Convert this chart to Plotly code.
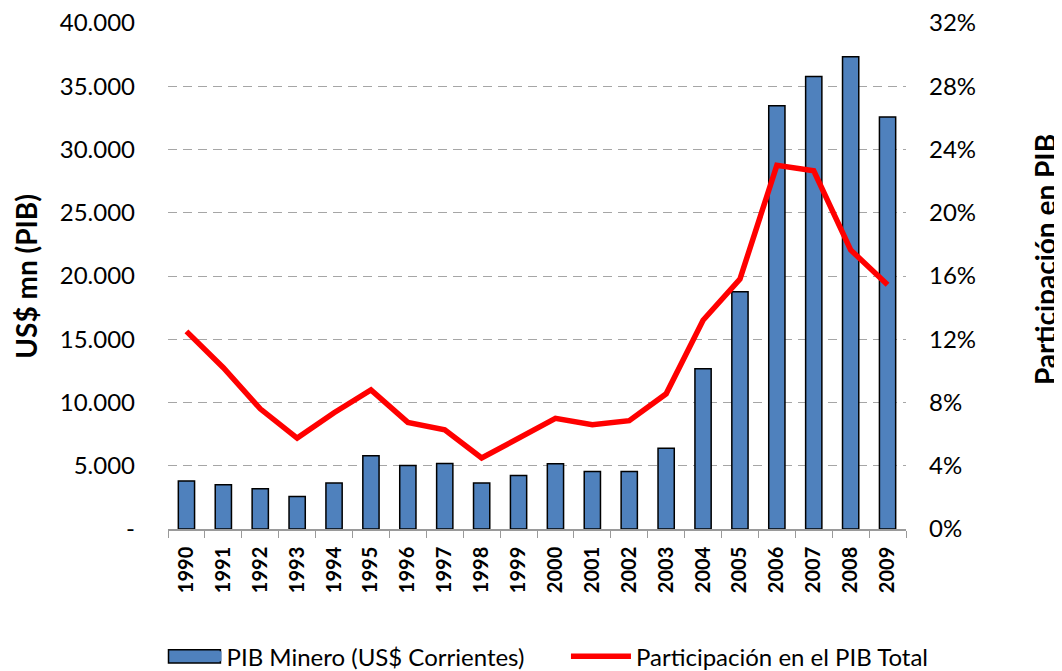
import plotly.graph_objects as go

years = [str(y) for y in range(1990, 2010)]
pib_minero = [3800, 3500, 3180, 2570, 3630, 5790, 5020, 5180, 3630, 4230,
              5150, 4550, 4550, 6390, 12670, 18750, 33450, 35770, 37330, 32560]
participacion = [12.5, 10.2, 7.6, 5.75, 7.35, 8.8, 6.74, 6.28, 4.49, 5.7,
                 7.0, 6.6, 6.85, 8.55, 13.2, 15.8, 23.0, 22.65, 17.65, 15.44]

left_ticks = [0, 5000, 10000, 15000, 20000, 25000, 30000, 35000, 40000]
left_ticktext = ["-", "5.000", "10.000", "15.000", "20.000", "25.000", "30.000", "35.000", "40.000"]
right_ticks = [0, 4, 8, 12, 16, 20, 24, 28, 32]
right_ticktext = [f"{v}%" for v in right_ticks]

FONT = "Lato"
W, H = 1054, 663
L, R, T, B = 159.5, 155.5, 15, 141.7
pw = W - L - R
ph = H - T - B
BLUE = "#4F81BD"


def px_x(v):
    return (v - L) / pw


def px_y(v):
    return (H - B - v) / ph


fig = go.Figure()
fig.add_trace(go.Bar(
    x=years, y=pib_minero, name="PIB Minero (US$ Corrientes)",
    marker=dict(color=BLUE, line=dict(color="#000000", width=1.5)),
    width=0.44, showlegend=False,
))
fig.add_trace(go.Scatter(
    x=years, y=participacion, name="Participación en el PIB Total",
    mode="lines", line=dict(color="#FF0000", width=5.5), yaxis="y2",
    legend="legend2",
))
# legend entry for the bars (its symbol box is drawn as a shape below)
fig.add_trace(go.Scatter(
    x=[None], y=[None], name="PIB Minero (US$ Corrientes)",
    mode="lines", line=dict(color=BLUE, width=10), legend="legend",
    hoverinfo="skip",
))

leg_y = px_y(649)
common_leg = dict(orientation="h", xanchor="left", yanchor="middle", y=leg_y,
                  font=dict(size=24, family=FONT), bgcolor="rgba(0,0,0,0)")

fig.update_layout(
    width=W, height=H,
    margin=dict(l=L, r=R, t=T, b=B, autoexpand=False),
    paper_bgcolor="white", plot_bgcolor="white",
    font=dict(family=FONT, size=23, color="#000000"),
    showlegend=True,
    legend=dict(x=px_x(158), itemwidth=50, **common_leg),
    legend2=dict(x=px_x(558), itemwidth=60, **common_leg),
    xaxis=dict(type="category", tickangle=-90, tickfont=dict(size=20, family=FONT, weight="bold"),
               showline=True, linecolor="#9a9a9a", linewidth=1.5,
               ticks="outside", tickson="boundaries", tickcolor="#9a9a9a", ticklen=7,
               ticklabelstandoff=8,
               showgrid=False, zeroline=False),
    yaxis=dict(range=[0, 40000], tickvals=left_ticks, ticktext=left_ticktext,
               showgrid=True, gridcolor="#a6a6a6", griddash="9px,6px", gridwidth=1,
               zeroline=False, showline=False, ticks="", ticklabelstandoff=32,
               ticklabeloverflow="allow",
               tickfont=dict(size=24, family=FONT)),
    yaxis2=dict(range=[0, 32], tickvals=right_ticks, ticktext=right_ticktext,
                overlaying="y", side="right", showgrid=False, zeroline=False,
                showline=False, ticks="", ticklabelstandoff=22,
                ticklabeloverflow="allow",
                tickfont=dict(size=24, family=FONT)),
    shapes=[
        dict(type="rect", xref="paper", yref="paper",
             x0=px_x(160), x1=px_x(212), y0=px_y(655.5), y1=px_y(642),
             fillcolor=BLUE, line=dict(color="#000000", width=1.5), layer="above"),
    ],
    annotations=[
        dict(text="<b>US$ mn (PIB)</b>", x=px_x(17), xref="paper", y=0.5, yref="paper",
             showarrow=False, textangle=-90, font=dict(size=28, family=FONT),
             xanchor="center", yanchor="middle"),
        dict(text="<b>Participación en PIB</b>", x=px_x(1037), xref="paper", y=0.532,
             yref="paper", showarrow=False, textangle=-90, font=dict(size=28, family=FONT),
             xanchor="center", yanchor="middle"),
    ],
)

fig.write_html("out.html")
